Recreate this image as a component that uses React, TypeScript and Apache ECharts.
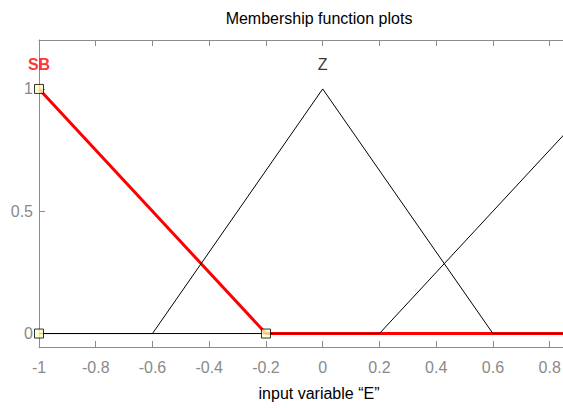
import React, { useEffect, useRef } from "react";
import * as echarts from "echarts";

// Membership functions of input variable "E"
const sbX = [-1, -0.2, 1];
const sbY = [1, 0, 0];
const zX = [-1, -0.6, 0, 0.6, 1];
const zY = [0, 0, 1, 0, 0];
const thirdX = [-1, 0.2, 1];
const thirdY = [0, 0, 1];
const markerX = [-1, -1, -0.2];
const markerY = [1, 0, 0];
const mfNames = ["SB", "Z"];
const mfLabelX = [-1, 0];
const mfLabelY = [1.1, 1.1];
const yTicks = [0, 0.5, 1];
const titleText = "Membership function plots";
const xLabelText = "input variable \u201CE\u201D";

const FONT = "'Liberation Sans', Arial, sans-serif";
const FS = 16;
const AXIS_GRAY = "#8c8c8c";
const LABEL_GRAY = "#8a8a8a";

const pairs = (xs: number[], ys: number[]) => xs.map((x, i) => [x, ys[i]]);

export default function App() {
  const ref = useRef<HTMLDivElement>(null);
  useEffect(() => {
    if (!ref.current) return;
    const chart = echarts.init(ref.current, undefined, { renderer: "svg" });
    const gridLeft = 39;
    const gridTop = 40;
    const gridWidth = 567.4;
    const gridHeight = 307;
    const xAxisCommon = {
      type: "value" as const,
      min: -1,
      max: 1,
      interval: 0.2,
      splitLine: { show: false },
      axisLine: { show: true, onZero: false, lineStyle: { color: AXIS_GRAY, width: 1 } },
      axisTick: { show: true, inside: true, length: 6, lineStyle: { color: AXIS_GRAY } },
    };
    const yAxisCommon = {
      type: "value" as const,
      min: -0.055,
      max: 1.2,
      splitLine: { show: false },
      axisLine: { show: true, onZero: false, lineStyle: { color: AXIS_GRAY, width: 1 } },
      axisTick: { show: true, inside: true, length: 6, customValues: yTicks, lineStyle: { color: AXIS_GRAY } },
    };
    chart.setOption({
      animation: false,
      backgroundColor: "#ffffff",
      grid: { left: gridLeft, top: gridTop, width: gridWidth, height: gridHeight, containLabel: false },
      xAxis: [
        {
          ...xAxisCommon,
          position: "bottom",
          axisLabel: {
            show: true,
            showMaxLabel: false,
            color: LABEL_GRAY,
            fontFamily: FONT,
            fontSize: FS,
            margin: 12,
          },
        },
        { ...xAxisCommon, position: "top", axisLabel: { show: false } },
      ],
      yAxis: [
        {
          ...yAxisCommon,
          position: "left",
          axisLabel: {
            show: true,
            customValues: yTicks,
            color: LABEL_GRAY,
            fontFamily: FONT,
            fontSize: FS,
            margin: 6,
          },
        },
        { ...yAxisCommon, position: "right", axisLabel: { show: false } },
      ],
      series: [
        {
          name: "SB",
          type: "line",
          data: pairs(sbX, sbY),
          showSymbol: false,
          lineStyle: { color: "#ff0000", width: 3 },
          z: 2,
        },
        {
          name: "Z",
          type: "line",
          data: pairs(zX, zY),
          showSymbol: false,
          lineStyle: { color: "#000000", width: 1 },
          z: 3,
        },
        {
          name: "third",
          type: "line",
          data: pairs(thirdX, thirdY),
          showSymbol: false,
          lineStyle: { color: "#000000", width: 1 },
          z: 3,
        },
        {
          name: "vertices",
          type: "scatter",
          data: pairs(markerX, markerY),
          symbol: "rect",
          symbolSize: 9,
          itemStyle: { color: "#ffffc0", borderColor: "#000000", borderWidth: 1 },
          z: 4,
        },
        {
          name: "labels",
          type: "scatter",
          data: mfNames.map((n, i) => ({
            value: [mfLabelX[i], mfLabelY[i]],
            label: {
              show: true,
              formatter: n,
              position: "inside",
              color: i === 0 ? "#ff0000" : "#000000",
              fontWeight: i === 0 ? "bold" : "normal",
              fontFamily: FONT,
              fontSize: FS,
            },
          })),
          symbolSize: 0,
          itemStyle: { color: "transparent" },
          z: 5,
        },
      ],
      graphic: [
        {
          type: "text",
          x: 319,
          y: 18,
          style: {
            text: titleText,
            fill: "#000000",
            font: `${FS}px ${FONT}`,
            align: "center",
            verticalAlign: "middle",
          },
        },
        {
          type: "text",
          x: 319,
          y: 393,
          style: {
            text: xLabelText,
            fill: "#000000",
            font: `${FS}px ${FONT}`,
            align: "center",
            verticalAlign: "middle",
          },
        },
      ],
    });
    return () => chart.dispose();
  }, []);
  return (
    <div
      style={{
        position: "fixed",
        left: 0,
        top: 0,
        width: 563,
        height: 408,
        overflow: "hidden",
        background: "#ffffff",
      }}
    >
      <div ref={ref} style={{ width: 630, height: 408 }} />
    </div>
  );
}
